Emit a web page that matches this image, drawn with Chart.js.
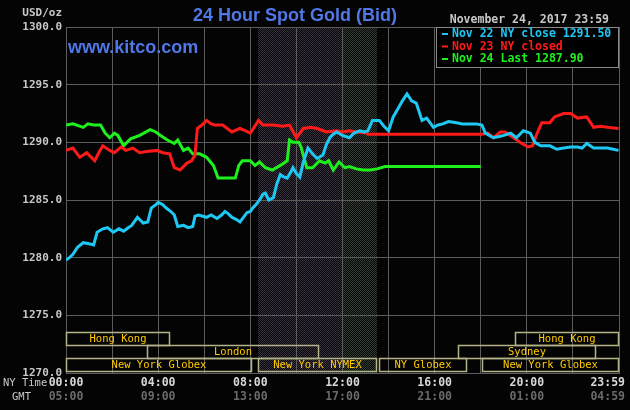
<!DOCTYPE html>
<html><head><meta charset="utf-8">
<script src="https://cdn.jsdelivr.net/npm/chart.js@4.4.0/dist/chart.umd.min.js"></script>
<style>html,body{margin:0;padding:0;background:#000;overflow:hidden}canvas{display:block}</style>
</head><body>
<canvas id="c" width="630" height="410"></canvas>
<script>
// ---- data (NY time in hours, price in USD/oz) ----
const nov22Hours = [0,0.15,0.3,0.5,0.75,1,1.2,1.35,1.6,1.8,2.05,2.3,2.5,2.7,2.85,3.1,3.35,3.55,3.7,3.9,4,4.2,4.35,4.55,4.7,4.85,5.1,5.3,5.5,5.6,5.75,6.1,6.3,6.55,6.75,6.9,7.05,7.2,7.4,7.55,7.7,7.85,8,8.1,8.25,8.4,8.55,8.65,8.8,9,9.15,9.3,9.45,9.6,9.75,9.85,10,10.15,10.3,10.5,10.7,10.9,11.15,11.3,11.45,11.6,11.75,12,12.3,12.5,12.75,12.95,13.1,13.3,13.6,13.8,14,14.2,14.4,14.6,14.8,15,15.2,15.45,15.65,15.95,16.15,16.35,16.6,16.95,17.2,17.5,17.8,18.05,18.2,18.55,18.8,19,19.3,19.55,19.85,20.15,20.35,20.6,21,21.3,21.6,21.9,22.2,22.4,22.6,22.9,23.2,23.5,23.75,23.98];
const nov22Values = [1279.8,1280.0,1280.3,1280.9,1281.3,1281.2,1281.1,1282.2,1282.5,1282.6,1282.2,1282.5,1282.3,1282.6,1282.8,1283.5,1283.0,1283.1,1284.3,1284.6,1284.8,1284.6,1284.3,1284.0,1283.7,1282.7,1282.8,1282.6,1282.7,1283.6,1283.7,1283.5,1283.7,1283.4,1283.7,1284.0,1283.8,1283.5,1283.3,1283.1,1283.5,1283.9,1284.0,1284.3,1284.6,1285.0,1285.5,1285.6,1285.0,1285.2,1286.4,1287.2,1287.0,1286.9,1287.4,1287.8,1287.3,1287.0,1288.3,1289.5,1289.0,1288.6,1288.9,1289.8,1290.4,1290.7,1290.9,1290.6,1290.4,1290.8,1291.0,1290.9,1291.0,1291.9,1291.9,1291.4,1291.0,1292.2,1292.9,1293.6,1294.2,1293.6,1293.4,1291.9,1292.1,1291.3,1291.5,1291.6,1291.8,1291.7,1291.6,1291.6,1291.6,1291.5,1290.8,1290.4,1290.5,1290.6,1290.8,1290.4,1291.0,1290.8,1290.0,1289.7,1289.7,1289.4,1289.5,1289.6,1289.6,1289.5,1289.9,1289.5,1289.5,1289.5,1289.4,1289.3];

const nov23Hours = [0,0.3,0.6,0.9,1.1,1.25,1.45,1.6,1.9,2.1,2.4,2.6,2.9,3.2,3.5,3.95,4.2,4.5,4.7,4.95,5.25,5.45,5.6,5.7,5.9,6.1,6.3,6.45,6.8,7,7.2,7.55,7.8,8,8.2,8.35,8.55,9,9.4,9.7,10,10.3,10.6,10.9,11.3,11.75,12,12.3,12.6,13.05,13.1,18.05,18.3,18.55,18.85,19.05,19.35,19.7,20.05,20.25,20.45,20.65,21,21.2,21.6,21.9,22.2,22.6,22.9,23.2,23.5,23.98];
const nov23Values = [1289.3,1289.5,1288.7,1289.1,1288.7,1288.4,1289.2,1289.7,1289.3,1289.1,1289.6,1289.3,1289.5,1289.1,1289.2,1289.3,1289.1,1289.0,1287.8,1287.6,1288.2,1288.4,1288.9,1291.2,1291.5,1291.9,1291.6,1291.5,1291.5,1291.2,1290.9,1291.2,1291.0,1290.8,1291.4,1291.9,1291.5,1291.5,1291.4,1291.5,1290.4,1291.2,1291.3,1291.2,1290.9,1291.0,1290.9,1291.0,1290.9,1290.8,1290.7,1290.7,1290.8,1290.4,1290.9,1290.9,1290.5,1290.0,1289.6,1289.7,1290.8,1291.7,1291.7,1292.2,1292.5,1292.5,1292.1,1292.2,1291.3,1291.4,1291.3,1291.2];

const nov24Hours = [0,0.3,0.75,0.95,1.2,1.5,1.7,1.9,2.1,2.25,2.5,2.8,3.2,3.65,3.9,4.1,4.4,4.7,4.85,5.1,5.3,5.5,5.8,6.1,6.4,6.6,7,7.35,7.5,7.65,8,8.2,8.4,8.65,8.95,9.3,9.6,9.7,9.85,10.1,10.2,10.45,10.7,11,11.25,11.4,11.6,11.85,12.1,12.3,12.6,12.9,13.2,13.5,13.85,18.0];
const nov24Values = [1291.5,1291.6,1291.3,1291.6,1291.5,1291.5,1290.8,1290.4,1290.8,1290.6,1289.7,1290.3,1290.6,1291.1,1290.9,1290.6,1290.2,1289.9,1290.2,1289.3,1289.5,1289.0,1289.0,1288.7,1288.0,1286.9,1286.9,1286.9,1288.0,1288.4,1288.4,1288.0,1288.3,1287.8,1287.6,1288.0,1288.4,1290.2,1290.0,1290.0,1289.6,1287.8,1287.8,1288.4,1288.2,1288.4,1287.6,1288.3,1287.8,1287.9,1287.7,1287.6,1287.6,1287.7,1287.9,1287.9];

const seriesLabels = ['Nov 22 NY close 1291.50', 'Nov 23 NY closed', 'Nov 24 Last 1287.90'];
const seriesColors = ['#1ec8f5', '#ff1a1a', '#1ef01e'];

const nyTimeHours  = [0, 4, 8, 12, 16, 20, 23.983];
const nyTimeLabels = ['00:00','04:00','08:00','12:00','16:00','20:00','23:59'];
const gmtLabels    = ['05:00','09:00','13:00','17:00','21:00','01:00','04:59'];

const sessionNames = ['Hong Kong','Hong Kong','London','Sydney','New York Globex','New York NYMEX','NY Globex','New York Globex'];
const sessionStart = [0, 19.5, 3.5, 17.0, 0, 8.33, 13.57, 18.05];
const sessionEnd   = [4.5, 24, 11.0, 23.0, 8.07, 13.5, 17.4, 24];
const sessionRow   = [0, 0, 1, 1, 2, 2, 2, 2];

const bandStart = [8.33, 12.0];
const bandEnd   = [12.0, 13.5];

const titleText = '24 Hour Spot Gold (Bid)';
const dateText = 'November 24, 2017 23:59';

// ---- helpers ----
const MONO = '"DejaVu Sans Mono", "Liberation Mono", monospace';
function pts(h, v){ return h.map((t,i)=>({x:t, y:v[i]})); }
function checker(c1, c2){
  const o = document.createElement('canvas'); o.width = 2; o.height = 2;
  const g = o.getContext('2d');
  g.fillStyle = c2; g.fillRect(0,0,2,2);
  g.fillStyle = c1; g.fillRect(0,0,1,1); g.fillRect(1,1,1,1);
  return o;
}
const bandTiles = [checker('#3a3242','#060506'), checker('#313d33','#050605')];

const kitco = {
  id: 'kitco',
  beforeDraw(chart){
    const {ctx, chartArea:a, scales:{x}} = chart;
    ctx.save();
    ctx.fillStyle = '#040404';
    ctx.fillRect(0,0,chart.width,chart.height);
    bandStart.forEach((s,i)=>{
      const x0 = x.getPixelForValue(s), x1 = x.getPixelForValue(bandEnd[i]);
      ctx.fillStyle = ctx.createPattern(bandTiles[i], 'repeat');
      ctx.fillRect(Math.round(x0), a.top, Math.round(x1)-Math.round(x0), a.bottom-a.top);
    });
    ctx.restore();
  },
  beforeDatasetsDraw(chart){
    const {ctx, chartArea:a, scales:{x}} = chart;
    ctx.save();
    ctx.strokeStyle = '#b4b488';
    ctx.lineWidth = 1.5;
    ctx.font = '10.5px ' + MONO;
    ctx.textAlign = 'center';
    ctx.textBaseline = 'middle';
    const rowH = 13;
    const top0 = a.bottom - 41;
    sessionNames.forEach((n,i)=>{
      const x0 = Math.round(x.getPixelForValue(sessionStart[i]));
      const x1 = Math.round(x.getPixelForValue(sessionEnd[i]));
      const y0 = top0 + sessionRow[i]*rowH;
      ctx.strokeRect(x0+0.5, y0+0.5, x1-x0-1, rowH);
      ctx.fillStyle = '#ffcc00';
      ctx.fillText(n, (x0+x1)/2, y0 + rowH/2 + 1);
    });
    ctx.restore();
  },
  afterDraw(chart){
    const {ctx, chartArea:a, scales:{x}} = chart;
    ctx.save();
    // title
    ctx.fillStyle = '#5078e6';
    ctx.font = 'bold 18px "Liberation Sans", Arial, sans-serif';
    ctx.textAlign = 'center'; ctx.textBaseline = 'middle';
    ctx.fillText(titleText, 295, 16);
    ctx.textAlign = 'left';
    ctx.fillText('www.kitco.com', a.left + 2, 48);
    // units + date
    ctx.font = 'bold 11px ' + MONO;
    ctx.fillStyle = '#c8c8c8';
    ctx.textAlign = 'right';
    ctx.fillText('USD/oz', 62, 13);
    ctx.font = 'bold 11.5px ' + MONO;
    ctx.fillText(dateText, 609, 20);
    // legend box
    const lx = a.right - 183, ly = a.top, lw = 183, lh = 40;
    ctx.fillStyle = '#000';
    ctx.fillRect(lx, ly, lw, lh);
    ctx.strokeStyle = '#8a8a8a'; ctx.lineWidth = 1;
    ctx.strokeRect(lx+0.5, ly+0.5, lw-1, lh);
    ctx.textAlign = 'left';
    ctx.font = 'bold 11.5px ' + MONO;
    chart.data.datasets.forEach((ds,i)=>{
      const yy = ly + 7 + i*12.5;
      ctx.strokeStyle = ds.borderColor; ctx.lineWidth = 2;
      ctx.beginPath(); ctx.moveTo(lx+6, yy); ctx.lineTo(lx+12, yy); ctx.stroke();
      ctx.fillStyle = ds.borderColor;
      ctx.fillText(ds.label, lx + 16, yy + 0.5);
    });
    // x labels
    ctx.font = '10.5px ' + MONO;
    ctx.fillStyle = '#c8c8c8';
    ctx.textAlign = 'left';
    ctx.fillText('NY Time', 3, a.bottom + 10);
    ctx.fillText('GMT', 12, a.bottom + 24);
    ctx.font = 'bold 11.5px ' + MONO;
    ctx.textAlign = 'center';
    nyTimeHours.forEach((h,i)=>{
      let px = x.getPixelForValue(h);
      const w = ctx.measureText(nyTimeLabels[i]).width;
      px = Math.min(px, chart.width - 5 - w/2);
      ctx.fillStyle = '#d8d8d8';
      ctx.fillText(nyTimeLabels[i], px, a.bottom + 10);
      ctx.fillStyle = '#6a6a6a';
      ctx.fillText(gmtLabels[i], px, a.bottom + 24);
    });
    ctx.restore();
  }
};

new Chart(document.getElementById('c'), {
  type: 'line',
  data: {
    datasets: [
      {label: seriesLabels[0], data: pts(nov22Hours, nov22Values), borderColor: seriesColors[0]},
      {label: seriesLabels[1], data: pts(nov23Hours, nov23Values), borderColor: seriesColors[1]},
      {label: seriesLabels[2], data: pts(nov24Hours, nov24Values), borderColor: seriesColors[2]}
    ]
  },
  options: {
    responsive: false,
    devicePixelRatio: 1,
    animation: false,
    layout: {padding: {top: 27, right: 11, left: 0, bottom: 0}},
    elements: {
      point: {radius: 0},
      line: {borderWidth: 3, tension: 0, fill: false}
    },
    plugins: {legend: {display: false}, tooltip: {enabled: false}},
    scales: {
      x: {
        type: 'linear', min: 0, max: 24,
        ticks: {display: false, stepSize: 2},
        grid: {color: '#5c5c5c', lineWidth: 1, drawTicks: false},
        border: {color: '#5c5c5c'},
        afterFit(s){ s.height = 37; }
      },
      y: {
        min: 1270, max: 1300,
        ticks: {stepSize: 5, padding: 4, color: '#c8c8c8',
          font: {family: MONO, size: 11, weight: 'bold'},
          callback: v => Number(v).toFixed(1)},
        grid: {color: '#5c5c5c', lineWidth: 1, drawTicks: false},
        border: {color: '#5c5c5c'},
        afterFit(s){ s.width = 66; }
      }
    }
  },
  plugins: [kitco]
});
</script>
</body></html>
